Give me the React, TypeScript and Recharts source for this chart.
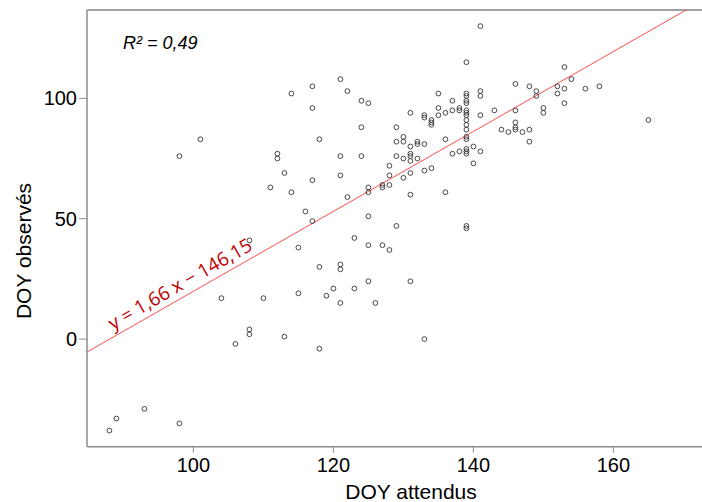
import {
  ScatterChart,
  Scatter,
  XAxis,
  YAxis,
  ReferenceLine,
} from "recharts";

const DOY_ATTENDUS = [
  88, 89, 93, 98, 98, 101, 104, 106, 108, 108, 108, 110, 111, 112, 112, 113, 113,
  114, 114, 115, 115, 116, 117, 117, 117, 117, 118, 118, 118, 119, 120,
  121, 121, 121, 121, 121, 121, 122, 122, 123, 123, 124, 124, 124,
  125, 125, 125, 125, 125, 125, 126, 127, 127, 127, 128, 128, 128, 128,
  129, 129, 129, 129, 130, 130, 130, 130,
  131, 131, 131, 131, 131, 131, 131, 131, 132, 132, 132,
  133, 133, 133, 133, 133, 134, 134, 134, 134, 135, 135, 135,
  136, 136, 136, 137, 137, 137, 138, 138, 138,
  139, 139, 139, 139, 139, 139, 139, 139, 139, 139, 139, 139, 139, 139, 139, 139, 139, 139,
  140, 140, 141, 141, 141, 141, 141, 143, 144, 145,
  146, 146, 146, 146, 146, 147, 148, 148, 148, 149, 149, 150, 150,
  152, 152, 153, 153, 153, 154, 156, 158, 165,
];
const DOY_OBSERVES = [
  -38, -33, -29, -35, 76, 83, 17, -2, 41, 4, 2, 17, 63, 77, 75, 69, 1,
  102, 61, 38, 19, 53, 105, 96, 66, 49, 83, 30, -4, 18, 21,
  108, 76, 68, 31, 29, 15, 103, 59, 42, 21, 99, 88, 76,
  98, 63, 61, 51, 39, 24, 15, 64, 63, 39, 72, 68, 64, 37,
  88, 82, 76, 47, 84, 82, 75, 67,
  94, 80, 77, 76, 74, 69, 60, 24, 82, 81, 75,
  93, 92, 81, 70, 0, 91, 90, 89, 71, 102, 96, 93,
  94, 83, 61, 99, 95, 77, 96, 95, 78,
  115, 102, 101, 99, 98, 95, 94, 93, 91, 89, 87, 84, 83, 79, 78, 77, 47, 46,
  80, 73, 130, 103, 101, 93, 78, 95, 87, 86,
  106, 95, 90, 88, 87, 86, 105, 87, 82, 103, 101, 96, 94,
  105, 102, 113, 104, 98, 108, 104, 105, 91,
];

const X_TICKS = [100, 120, 140, 160];
const Y_TICKS = [0, 50, 100];
const X_DOMAIN = [84.8, 175];
const Y_DOMAIN = [-44.7, 136.7];

// regression y = 1,66 x − 146,15
const SLOPE = 1.66;
const INTERCEPT = -146.15;

const points = DOY_ATTENDUS.map((x, i) => ({ x, y: DOY_OBSERVES[i] }));

const lineStart = { x: X_DOMAIN[0], y: SLOPE * X_DOMAIN[0] + INTERCEPT };
const lineEnd = { x: (Y_DOMAIN[1] - INTERCEPT) / SLOPE, y: Y_DOMAIN[1] };

const FONT = "'Liberation Sans', Arial, sans-serif";

const OpenCircle = (props: any) => (
  <circle cx={props.cx} cy={props.cy} r={2.4} fill="none" stroke="#333" strokeWidth={0.9} />
);

export default function App() {
  return (
    <div
      style={{
        position: "absolute",
        left: 0,
        top: 0,
        width: 702,
        height: 502,
        overflow: "hidden",
        background: "#fff",
      }}
    >
      <ScatterChart width={740} height={502} margin={{ top: 10, right: 21.6, bottom: 0, left: 0 }}>
        <XAxis
          type="number"
          dataKey="x"
          domain={X_DOMAIN}
          ticks={X_TICKS}
          allowDataOverflow
          height={55.3}
          axisLine={{ stroke: "#8c8c8c", strokeWidth: 1.5 }}
          tickLine={{ stroke: "#8c8c8c" }}
          tickSize={6}
          tickMargin={5}
          tick={{ fontSize: 20, fill: "#000", fontFamily: FONT }}
        />
        <YAxis
          type="number"
          dataKey="y"
          domain={Y_DOMAIN}
          ticks={Y_TICKS}
          allowDataOverflow
          width={87}
          axisLine={{ stroke: "#8c8c8c", strokeWidth: 1.5 }}
          tickLine={{ stroke: "#8c8c8c" }}
          tickSize={8}
          tickMargin={2}
          tick={{ fontSize: 20, fill: "#000", fontFamily: FONT }}
        />
        <ReferenceLine y={Y_DOMAIN[1]} stroke="#444" strokeWidth={1.2} />
        <ReferenceLine segment={[lineStart, lineEnd]} stroke="#ff4d4d" strokeWidth={1} />
        <Scatter data={points} shape={OpenCircle} isAnimationActive={false} />
      </ScatterChart>
      <svg
        width={702}
        height={502}
        style={{ position: "absolute", left: 0, top: 0, pointerEvents: "none" }}
      >
        <text x={123} y={49} fontSize={18} fontStyle="italic" fontFamily={FONT} fill="#000">
          R² = 0,49
        </text>
        <text
          x={180}
          y={284}
          dy="0.35em"
          textAnchor="middle"
          transform="rotate(-30 180 284)"
          fontSize={19}
          fontFamily="'Open Sans', sans-serif"
          fill="#c00000"
        >
          y = 1,66 x − 146,15
        </text>
        <text x={411} y={499} textAnchor="middle" fontSize={21} fontFamily={FONT} fill="#000">
          DOY attendus
        </text>
        <text
          x={23.5}
          y={251}
          dy="0.35em"
          textAnchor="middle"
          transform="rotate(-90 23.5 251)"
          fontSize={21}
          fontFamily={FONT}
          fill="#000"
        >
          DOY observés
        </text>
      </svg>
    </div>
  );
}
